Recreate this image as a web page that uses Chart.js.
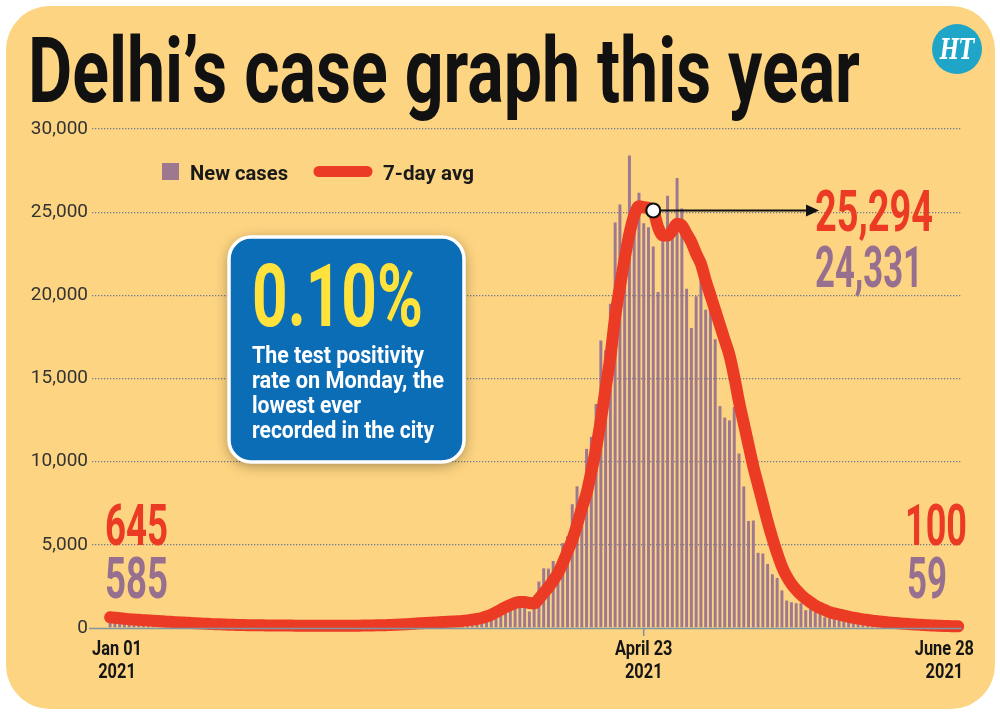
<!DOCTYPE html>
<html>
<head>
<meta charset="utf-8">
<title>Delhi's case graph this year</title>
<script src="https://cdn.jsdelivr.net/npm/chart.js@4.4.0/dist/chart.umd.min.js"></script>
<style>
  html, body { margin: 0; padding: 0; background: #fff; }
  canvas { display: block; }
</style>
</head>
<body>
<canvas id="caseGraph" width="1000" height="715"></canvas>
<script>
// daily new cases, Jan 01 to June 28 2021 (one value per day)
var newCases = [
    // Jan
    585, 490, 425, 385, 485, 655, 445, 430, 400, 520, 305, 385, 295, 340, 300, 250,
    245, 160, 230, 230, 225, 200, 210, 185, 150, 200, 95, 150, 210, 180, 160,
    // Feb
    160, 125, 150, 160, 130, 180, 145, 95, 140, 130, 130, 145, 150, 140, 95, 115,
    130, 135, 150, 145, 130, 145, 130, 200, 220, 255, 185, 215,
    // Mar
    175, 215, 240, 280, 310, 310, 240, 240, 320, 370, 410, 420, 430, 405, 370, 425,
    535, 605, 715, 815, 825, 890, 1100, 1255, 1515, 1535, 1560, 1880, 1905, 990, 1820,
    // Apr
    2790, 3590, 3570, 4030, 3550, 5100, 5510, 7440, 8520, 7900, 10770, 11490, 13470, 17280, 16700,
    19490, 24380, 25460, 23690, 28400, 24640, 26170, 24331, 24100, 22930, 20200, 24150, 25990, 24240, 27050,
    // May
    25220, 20390, 18040, 19950, 20960, 19130, 19830, 17360, 13340, 12650, 12480, 13290, 10490, 8510, 6430, 6460,
    4520, 4480, 3850, 3230, 3010, 2260, 1650, 1550, 1490, 1490, 1070, 1140, 960, 950, 650,
    // Jun
    625, 575, 485, 525, 415, 380, 230, 315, 335, 305, 240, 215, 255, 130,
    230, 210, 165, 160, 135, 125, 90, 110, 110, 95, 85, 115, 90, 59
];

// 7-day average
var avg7 = [
    // Jan
    645, 620, 590, 560, 530, 510, 490, 470, 455, 440, 420, 400, 380, 365, 350, 335,
    320, 300, 285, 270, 255, 240, 230, 220, 210, 200, 190, 180, 175, 170, 165,
    // Feb
    160, 158, 155, 152, 150, 148, 146, 144, 142, 140, 138, 136, 135, 134, 133, 132,
    132, 133, 134, 135, 137, 140, 143, 147, 152, 158, 165, 172,
    // Mar
    180, 195, 210, 225, 240, 260, 280, 295, 310, 325, 340, 355, 370, 385, 400, 425,
    460, 500, 540, 600, 690, 800, 950, 1100, 1250, 1380, 1500, 1560, 1560, 1500, 1480,
    // Apr
    1750, 2100, 2450, 2850, 3300, 3900, 4600, 5300, 6200, 7200, 8100, 9400, 10800, 12500, 14400,
    16300, 18700, 20500, 22200, 23700, 24800, 25350, 25294, 25250, 25100, 24100, 23600, 23600, 23900, 24300,
    // May
    24200, 23700, 23200, 22500, 21900, 20900, 20000, 19100, 18200, 17300, 16400, 15100, 13600, 12300, 11000, 9700,
    8600, 7500, 6400, 5400, 4500, 3700, 3100, 2650, 2300, 2000, 1750, 1550, 1350, 1200, 1080,
    // Jun
    950, 880, 810, 740, 680, 620, 570, 520, 480, 440, 410, 380, 350, 320,
    295, 270, 250, 230, 210, 190, 175, 160, 145, 135, 125, 115, 108, 100
];

var tickDays = [0, 112, 178];
var tickLabels = [['Jan 01', '2021'], ['April 23', '2021'], ['June 28', '2021']];
var peakDay = 114;   // where the white marker sits on the line

var barColor = 'rgba(150, 112, 144, 0.92)';
var lineColor = '#ec3b24';
var mauve = '#98708f';

function roundedRect(ctx, x, y, w, h, r) {
    ctx.beginPath();
    ctx.moveTo(x + r, y);
    ctx.arcTo(x + w, y, x + w, y + h, r);
    ctx.arcTo(x + w, y + h, x, y + h, r);
    ctx.arcTo(x, y + h, x, y, r);
    ctx.arcTo(x, y, x + w, y, r);
    ctx.closePath();
}

// draws text squeezed to a given width (the original uses a condensed face)
function fitText(ctx, text, x, y, width, font, color, align) {
    ctx.save();
    ctx.font = font;
    ctx.fillStyle = color;
    ctx.textAlign = 'left';
    ctx.textBaseline = 'alphabetic';
    var natural = ctx.measureText(text).width;
    var left = x;
    if (align === 'right') left = x - width;
    if (align === 'center') left = x - width / 2;
    ctx.translate(left, y);
    ctx.scale(width / natural, 1);
    ctx.fillText(text, 0, 0);
    ctx.restore();
}

function squeezedWidth(ctx, text, font, factor) {
    ctx.save();
    ctx.font = font;
    var w = ctx.measureText(text).width * factor;
    ctx.restore();
    return w;
}

var decorations = {
    id: 'decorations',
    beforeDraw: function(chart) {
        var ctx = chart.ctx;
        ctx.save();
        ctx.fillStyle = '#ffffff';
        ctx.fillRect(0, 0, chart.width, chart.height);
        roundedRect(ctx, 6, 6, 989, 703, 44);
        ctx.fillStyle = '#fdd481';
        ctx.fill();
        ctx.restore();
    },
    afterDraw: function(chart) {
        var ctx = chart.ctx;
        var area = chart.chartArea;
        var xs = chart.scales.x;
        var ys = chart.scales.y;

        // title
        fitText(ctx, 'Delhi\u2019s case graph this year', 28, 102, 832,
            'bold 90px Roboto, "DejaVu Sans", sans-serif', '#111111', 'left');

        // HT logo
        ctx.save();
        ctx.beginPath();
        ctx.arc(957, 49, 25, 0, Math.PI * 2);
        ctx.fillStyle = '#1ea5c8';
        ctx.fill();
        ctx.restore();
        fitText(ctx, 'HT', 957, 59, 34, 'bold italic 28px "DejaVu Serif", serif', '#ffffff', 'center');

        // zero line and April tick
        ctx.save();
        ctx.strokeStyle = '#7f97a3';
        ctx.lineWidth = 1.6;
        ctx.beginPath();
        ctx.moveTo(area.left - 3, area.bottom + 0.5);
        ctx.lineTo(area.right, area.bottom + 0.5);
        ctx.stroke();
        var aprX = xs.getPixelForValue(tickDays[1]);
        ctx.beginPath();
        ctx.moveTo(aprX, area.bottom);
        ctx.lineTo(aprX, area.bottom + 8);
        ctx.stroke();
        ctx.restore();

        // legend
        ctx.save();
        ctx.fillStyle = barColor;
        ctx.fillRect(162, 163, 17, 17);
        ctx.strokeStyle = lineColor;
        ctx.lineWidth = 11;
        ctx.lineCap = 'round';
        ctx.beginPath();
        ctx.moveTo(319, 171.5);
        ctx.lineTo(367, 171.5);
        ctx.stroke();
        ctx.restore();
        fitText(ctx, 'New cases', 190, 180, 98, 'bold 21px Roboto, sans-serif', '#1a1a1a', 'left');
        fitText(ctx, '7-day avg', 383, 180, 91, 'bold 21px Roboto, sans-serif', '#1a1a1a', 'left');

        // x labels
        var labelFont = 'bold 21px Roboto, sans-serif';
        tickDays.forEach(function(day, i) {
            var lines = tickLabels[i];
            var w0 = squeezedWidth(ctx, lines[0], labelFont, 0.78);
            var w1 = squeezedWidth(ctx, lines[1], labelFont, 0.78);
            var half = Math.max(w0, w1) / 2;
            var cx = xs.getPixelForValue(day);
            cx = Math.max(area.left + half, Math.min(area.right + 12 - half, cx));
            fitText(ctx, lines[0], cx, 655, w0, labelFont, '#151515', 'center');
            fitText(ctx, lines[1], cx, 678, w1, labelFont, '#151515', 'center');
        });

        // blue callout
        ctx.save();
        ctx.shadowColor = 'rgba(0, 0, 0, 0.38)';
        ctx.shadowBlur = 14;
        ctx.shadowOffsetY = 3;
        roundedRect(ctx, 229, 237, 235, 225, 22);
        ctx.fillStyle = '#0b6db6';
        ctx.fill();
        ctx.shadowColor = 'rgba(0, 0, 0, 0)';
        ctx.lineWidth = 3.5;
        ctx.strokeStyle = '#ffffff';
        ctx.stroke();
        ctx.restore();
        fitText(ctx, '0.10%', 252, 326, 171, 'bold 88px Roboto, sans-serif', '#ffe23c', 'left');
        var bodyFont = 'bold 24px Roboto, sans-serif';
        fitText(ctx, 'The test positivity', 252, 363, 172, bodyFont, '#ffffff', 'left');
        fitText(ctx, 'rate on Monday, the', 252, 388, 192, bodyFont, '#ffffff', 'left');
        fitText(ctx, 'lowest ever', 252, 413, 109, bodyFont, '#ffffff', 'left');
        fitText(ctx, 'recorded in the city', 252, 438, 182, bodyFont, '#ffffff', 'left');

        // end values
        var bigFont = 'bold 57px Roboto, sans-serif';
        fitText(ctx, avg7[0].toLocaleString('en-US'), 105, 545, 63, bigFont, lineColor, 'left');
        fitText(ctx, newCases[0].toLocaleString('en-US'), 105, 598, 63, bigFont, mauve, 'left');
        fitText(ctx, avg7[avg7.length - 1].toLocaleString('en-US'), 967, 545, 62, bigFont, lineColor, 'right');
        fitText(ctx, newCases[newCases.length - 1].toLocaleString('en-US'), 947, 598, 40, bigFont, mauve, 'right');
        fitText(ctx, avg7[112].toLocaleString('en-US'), 815, 231, 118, bigFont, lineColor, 'left');
        fitText(ctx, newCases[112].toLocaleString('en-US'), 815, 287, 108, bigFont, mauve, 'left');

        // peak marker and arrow
        var px = xs.getPixelForValue(peakDay);
        var py = ys.getPixelForValue(avg7[peakDay]);
        ctx.save();
        ctx.strokeStyle = '#111';
        ctx.fillStyle = '#111';
        ctx.lineWidth = 2;
        ctx.beginPath();
        ctx.moveTo(px + 6, py);
        ctx.lineTo(806, py);
        ctx.stroke();
        ctx.beginPath();
        ctx.moveTo(806, py - 6);
        ctx.lineTo(819, py);
        ctx.lineTo(806, py + 6);
        ctx.closePath();
        ctx.fill();
        ctx.beginPath();
        ctx.arc(px, py, 7, 0, Math.PI * 2);
        ctx.fillStyle = '#ffffff';
        ctx.fill();
        ctx.lineWidth = 2.2;
        ctx.stroke();
        ctx.restore();
    }
};

var canvas = document.getElementById('caseGraph');
var chart = new Chart(canvas, {
    type: 'bar',
    data: {
        datasets: [{
            type: 'line',
            label: '7-day avg',
            data: avg7.map(function(v, i) { return { x: i, y: v }; }),
            borderColor: lineColor,
            borderWidth: 12,
            borderCapStyle: 'round',
            borderJoinStyle: 'round',
            pointRadius: 0,
            cubicInterpolationMode: 'monotone',
            clip: false,
            order: 0
        }, {
            type: 'bar',
            label: 'New cases',
            data: newCases.map(function(v, i) { return { x: i, y: v }; }),
            backgroundColor: barColor,
            barPercentage: 0.62,
            categoryPercentage: 1,
            order: 1
        }]
    },
    options: {
        responsive: false,
        animation: false,
        devicePixelRatio: 1,
        layout: { padding: { left: 22, right: 38, top: 129, bottom: 87 } },
        plugins: {
            legend: { display: false },
            tooltip: { enabled: false }
        },
        scales: {
            x: {
                type: 'linear',
                min: -3.8,
                max: 178.8,
                offset: false,
                ticks: { display: false },
                grid: { display: false, drawTicks: false },
                border: { display: false },
                afterFit: function(scale) { scale.height = 0; }
            },
            y: {
                min: 0,
                max: 30000,
                ticks: {
                    stepSize: 5000,
                    color: '#333333',
                    padding: 4,
                    font: { family: 'Roboto', size: 19 },
                    callback: function(v) { return v.toLocaleString('en-US'); }
                },
                grid: {
                    drawTicks: false,
                    lineWidth: 1.3,
                    color: function(c) { return c.tick && c.tick.value === 0 ? 'rgba(0,0,0,0)' : '#6f7a90'; }
                },
                border: { display: false, dash: [1.3, 1.7] },
                afterFit: function(scale) { scale.width = 70; }
            }
        }
    },
    plugins: [decorations]
});
</script>
</body>
</html>
